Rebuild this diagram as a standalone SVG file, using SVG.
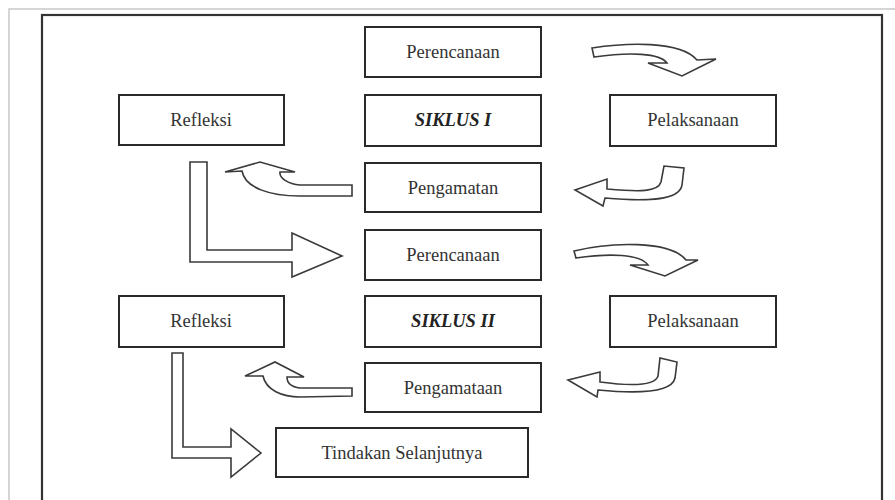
<svg xmlns="http://www.w3.org/2000/svg" width="895" height="500" viewBox="0 0 895 500">
<style>
.box{fill:#fff;stroke:#2a2a2a;stroke-width:2}
.t{font-family:'Liberation Serif','Times New Roman',serif;font-size:18.5px;fill:#333;text-anchor:middle}
.b{font-weight:bold;font-style:italic;fill:#222}
.ar{fill:#fff;stroke:#3a3a3a;stroke-width:1.6;stroke-linejoin:miter}
</style>
<rect width="895" height="500" fill="#fff"/>
<path d="M9,505 L9,9 L900,9" fill="none" stroke="#c8c8c8" stroke-width="1.5"/>
<rect x="42" y="15" width="840" height="500" fill="none" stroke="#333" stroke-width="2.2"/>

<g id="perencanaan1"><rect class="box" x="365" y="27" width="176" height="50"/><text class="t" x="453" y="58">Perencanaan</text></g>
<g id="refleksi1"><rect class="box" x="119" y="95" width="165" height="50"/><text class="t" x="201" y="126">Refleksi</text></g>
<g id="siklus1"><rect class="box" x="365" y="95" width="176" height="51"/><text class="t b" x="453" y="126">SIKLUS I</text></g>
<g id="pelaksanaan1"><rect class="box" x="610" y="95" width="166" height="51"/><text class="t" x="693" y="126">Pelaksanaan</text></g>
<g id="pengamatan1"><rect class="box" x="365" y="163" width="176" height="49"/><text class="t" x="453" y="194">Pengamatan</text></g>
<g id="perencanaan2"><rect class="box" x="365" y="230" width="176" height="50"/><text class="t" x="453" y="261">Perencanaan</text></g>
<g id="refleksi2"><rect class="box" x="119" y="296" width="165" height="51"/><text class="t" x="201" y="327">Refleksi</text></g>
<g id="siklus2"><rect class="box" x="365" y="296" width="176" height="51"/><text class="t b" x="453" y="327">SIKLUS II</text></g>
<g id="pelaksanaan2"><rect class="box" x="610" y="296" width="166" height="51"/><text class="t" x="693" y="327">Pelaksanaan</text></g>
<g id="pengamataan2"><rect class="box" x="365" y="363" width="176" height="49"/><text class="t" x="453" y="394">Pengamataan</text></g>
<g id="tindakan"><rect class="box" x="276" y="428" width="252" height="49"/><text class="t" x="402" y="459">Tindakan Selanjutnya</text></g>

<g id="connectors">
<path class="ar" d="M592,48 C625,43 680,40 697,60 L716,59 L682,76 L648,63 L667,63 C660,53 630,52 594,57 Z"/>
<path class="ar" d="M575,190 L607,179 L607,189 C640,192 658,192 661,182 L664,166 L684,168 L682,185 C680,200 650,202 605,198 L603,206 Z"/>
<path class="ar" d="M352,185 L300,185 C288,184 279,178 280,172 L295,172 L260,162 L225,172 L242,171 C245,188 270,196 300,196 L352,196 Z"/>
<path class="ar" d="M190,162 L207,162 L207,250 L292,250 L292,233 L342,256 L292,277 L292,262 L190,262 Z"/>
<path class="ar" d="M574,251 C610,242 670,240 686,260 L698,260 L665,276 L630,265 L648,265 C640,254 610,253 576,258 Z"/>
<path class="ar" d="M568,380 L600,372 L600,382 C630,386 655,386 658,376 L660,358 L677,362 L675,378 C672,392 640,394 598,390 L597,397 Z"/>
<path class="ar" d="M352,388 L300,388 C292,387 287,383 287,377 L304,377 L275,362 L245,376 L263,376 C266,390 282,397 300,397 L352,396 Z"/>
<path class="ar" d="M172,353 L183,353 L183,447 L231,447 L231,429 L261,453 L231,477 L231,458 L172,458 Z"/>
</g>
</svg>
